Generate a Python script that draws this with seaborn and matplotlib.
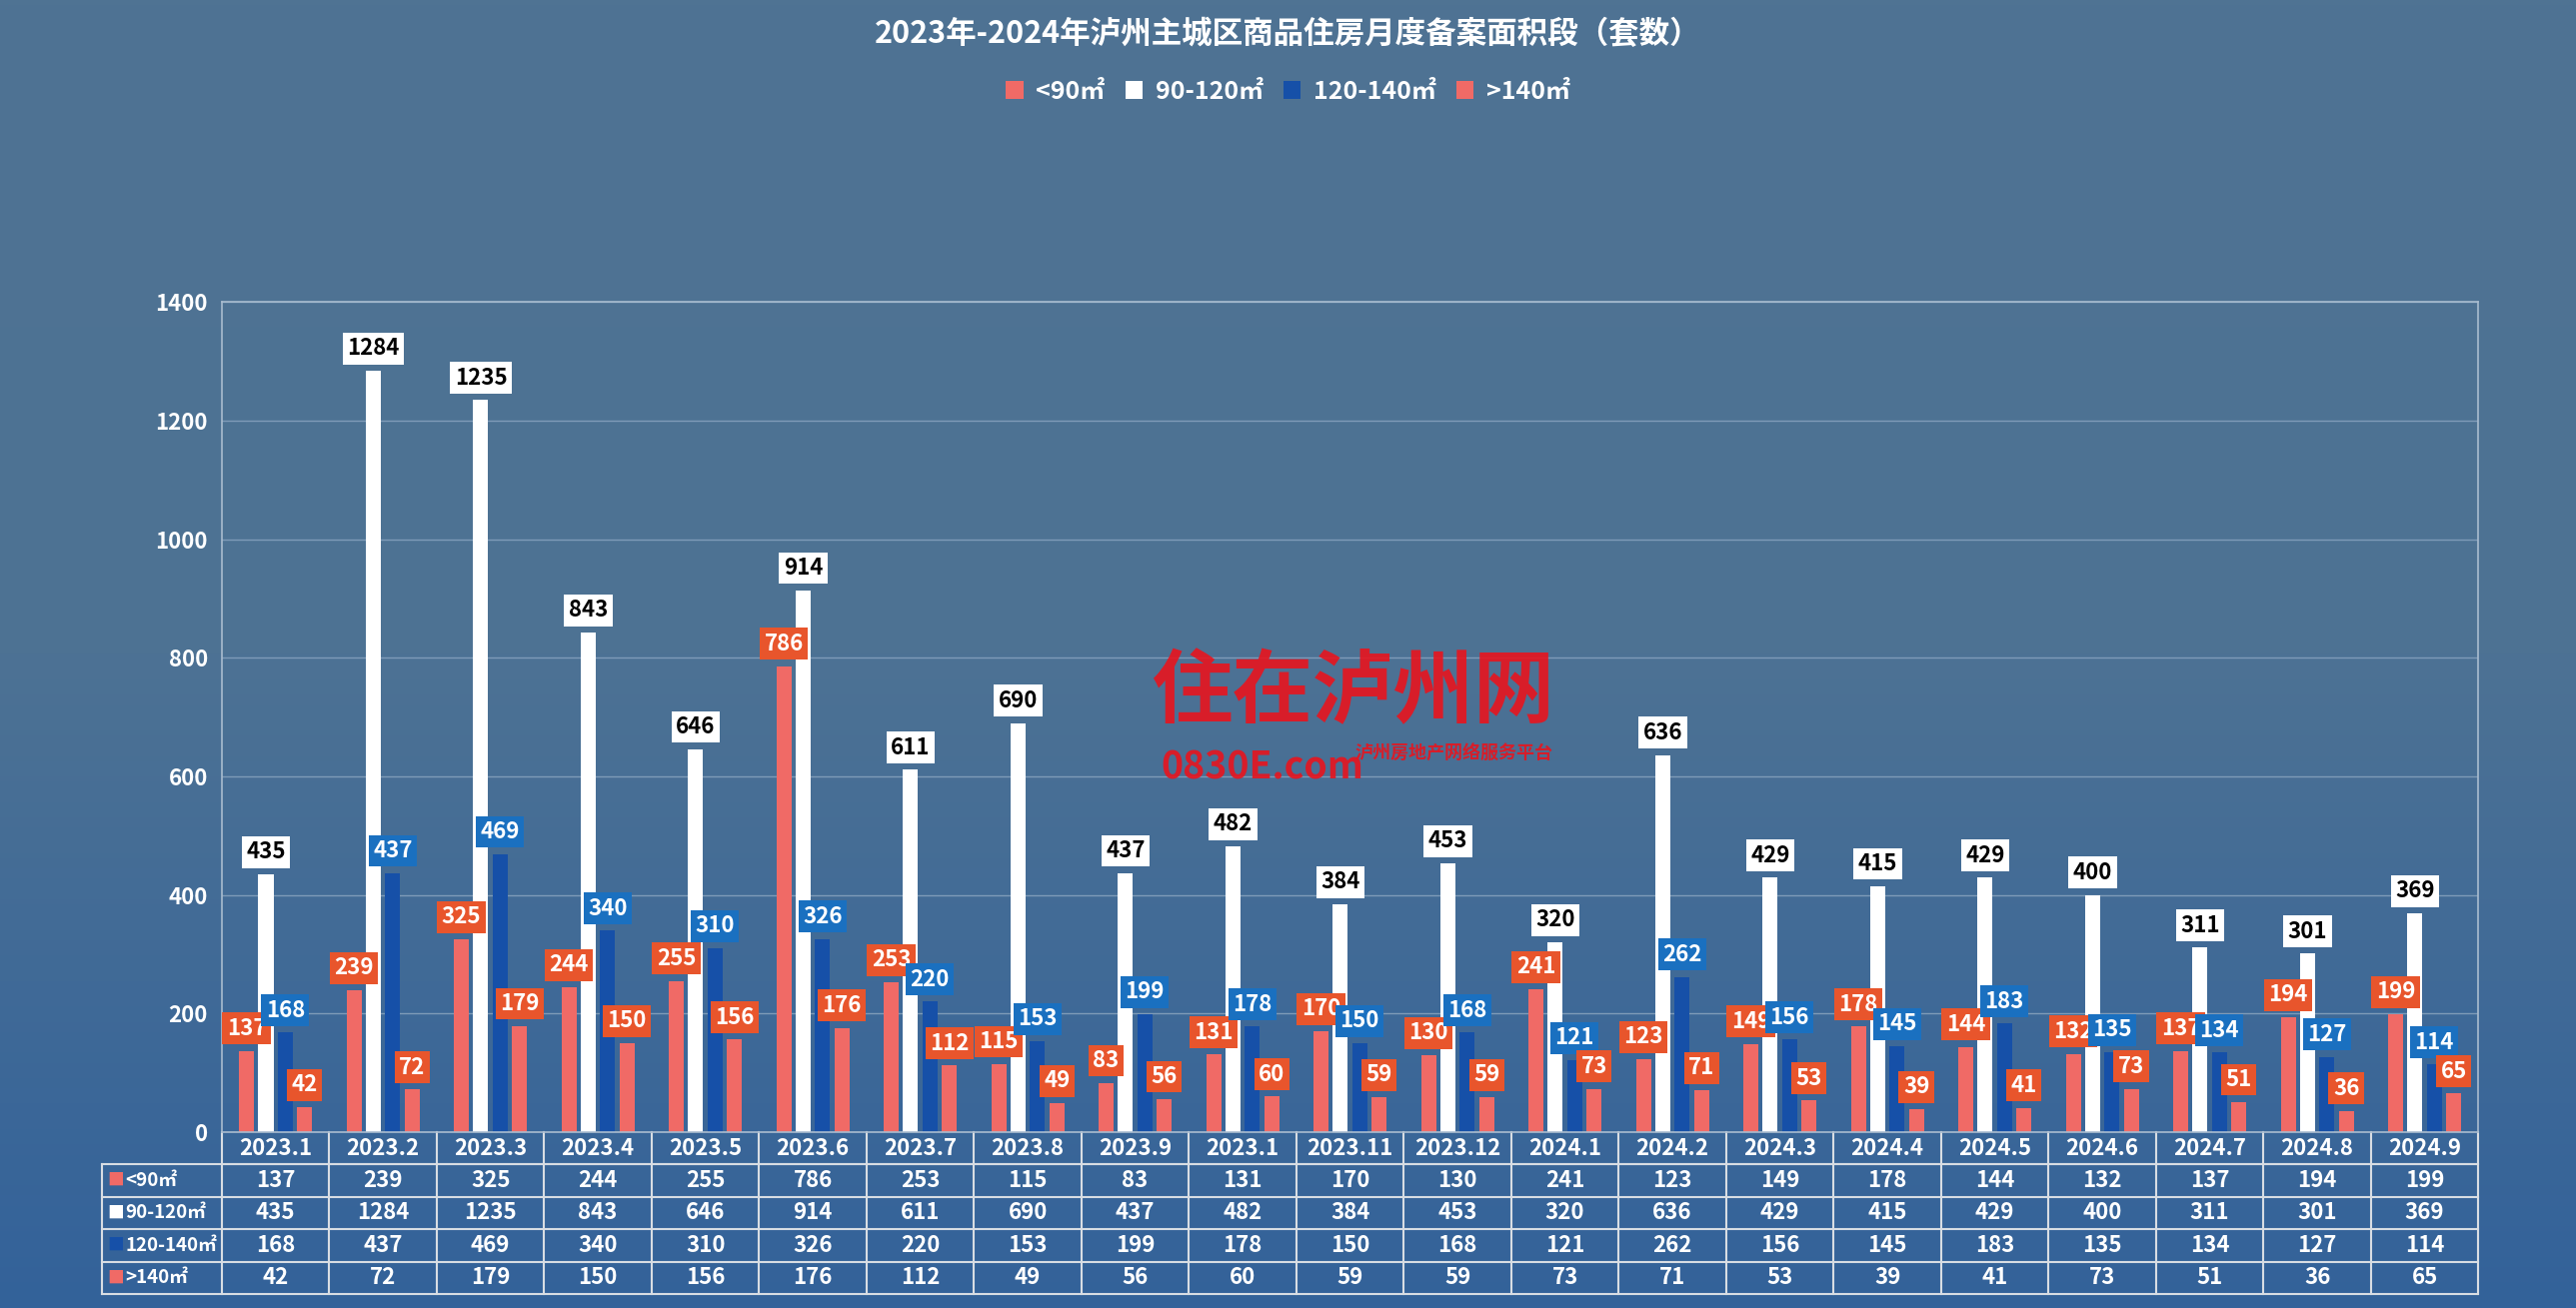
import numpy as np
import pandas as pd
import matplotlib
matplotlib.use("Agg")
import matplotlib.pyplot as plt
from matplotlib import font_manager as fm
import seaborn as sns

months = ["2023.1","2023.2","2023.3","2023.4","2023.5","2023.6","2023.7","2023.8","2023.9","2023.1","2023.11","2023.12",
          "2024.1","2024.2","2024.3","2024.4","2024.5","2024.6","2024.7","2024.8","2024.9"]
series = ["<90㎡", "90-120㎡", "120-140㎡", ">140㎡"]
s1 = [137,239,325,244,255,786,253,115,83,131,170,130,241,123,149,178,144,132,137,194,199]
s2 = [435,1284,1235,843,646,914,611,690,437,482,384,453,320,636,429,415,429,400,311,301,369]
s3 = [168,437,469,340,310,326,220,153,199,178,150,168,121,262,156,145,183,135,134,127,114]
s4 = [42,72,179,150,156,176,112,49,56,60,59,59,73,71,53,39,41,73,51,36,65]
vals = [s1, s2, s3, s4]

files = [f for f in fm.findSystemFonts() if "CJK" in f and "Serif" not in f]
for f in files:
    try:
        fm.fontManager.addfont(f)
    except Exception:
        pass
bold = [f for f in files if "Bold" in f]
cjk = bold[0] if bold else (files[0] if files else None)
fam = fm.FontProperties(fname=cjk).get_name() if cjk else "DejaVu Sans"
plt.rcParams["font.family"] = [fam, "DejaVu Sans"]
plt.rcParams["font.sans-serif"] = [fam, "DejaVu Sans"]

colors = ["#f06a66", "#ffffff", "#1650a8", "#f06a66"]
lab_bg = ["#e8552c", "#ffffff", "#1a70c0", "#e8552c"]
lab_fg = ["white", "black", "white", "white"]

n = len(months)
df = pd.DataFrame({"idx": np.tile(np.arange(n), 4),
                   "series": np.repeat(series, n),
                   "value": np.concatenate(vals)})

fig = plt.figure(figsize=(25.77, 13.09), dpi=100)
bg = fig.add_axes([0, 0, 1, 1], zorder=-10)
grad = np.linspace(0, 1, 256).reshape(-1, 1)
from matplotlib.colors import LinearSegmentedColormap
cm = LinearSegmentedColormap.from_list("g", ["#4f7393", "#4d7294", "#33629a"])
bg.imshow(grad, aspect="auto", cmap=cm, extent=[0, 1, 0, 1], origin="upper")
bg.axis("off")

ax = fig.add_axes([0.0861, 0.1345, 0.876, 0.6345])
ax.set_facecolor("none")
sns.barplot(data=df, x="idx", y="value", hue="series", hue_order=series,
            palette=colors, width=0.72, gap=0.22, ax=ax, legend=False,
            saturation=1, linewidth=0)
ax.set_ylim(0, 1400)
ax.set_xlim(-0.5, n - 0.5)
ax.set_yticks(range(0, 1401, 200))
ax.tick_params(axis="y", colors="white", labelsize=16, length=0, pad=10)
ax.set_yticklabels([str(v) for v in range(0, 1401, 200)], fontweight="bold")
ax.set_xticks([])
ax.set_xlabel(""); ax.set_ylabel("")
ax.grid(axis="y", color="#7f9bb8", linewidth=1)
ax.set_axisbelow(True)
for sp in ax.spines.values():
    sp.set_color("#a9bccf"); sp.set_linewidth(1.2)

for k, cont in enumerate(ax.containers):
    for rect, v in zip(cont.patches, vals[k]):
        x = rect.get_x() + rect.get_width() / 2
        ax.annotate(str(v), (x, v), xytext=(0, 16), textcoords="offset points",
                    ha="center", va="center", fontsize=16, fontweight="bold",
                    color=lab_fg[k], zorder=5,
                    bbox=dict(boxstyle="square,pad=0.2", fc=lab_bg[k], ec="none"))

row_h = 1400 * (19.5 / 500)
tab_left = -0.5 - 73 / 65.4
lc = "#d8dde3"
for i in range(n + 1):
    ax.plot([i - 0.5, i - 0.5], [0, -row_h * 5], color=lc, lw=1.5, clip_on=False)
ax.plot([tab_left, tab_left], [-row_h, -row_h * 5], color=lc, lw=1.5, clip_on=False)
ax.plot([-0.5, n - 0.5], [-row_h, -row_h], color=lc, lw=1.5, clip_on=False)
for r in range(1, 6):
    ax.plot([tab_left, n - 0.5], [-row_h * r, -row_h * r], color=lc, lw=1.5, clip_on=False)
for i, m in enumerate(months):
    ax.text(i, -row_h * 0.5, m, ha="center", va="center", color="white",
            fontsize=16, fontweight="bold")
for k in range(4):
    yc = -row_h * (k + 1.5)
    for i in range(n):
        ax.text(i, yc, str(vals[k][i]), ha="center", va="center", color="white",
                fontsize=16, fontweight="bold")
    ax.text(tab_left + 0.05, yc, "■", ha="left", va="center", color=colors[k], fontsize=12)
    ax.text(tab_left + 0.22, yc, series[k], ha="left", va="center", color="white",
            fontsize=13.5, fontweight="bold")

fig.text(0.5, 0.974, "2023年-2024年泸州主城区商品住房月度备案面积段（套数）", ha="center",
         va="center", color="white", fontsize=22, fontweight="bold")
from matplotlib.patches import Patch
handles = [Patch(facecolor=c, edgecolor="none") for c in colors]
fig.legend(handles, series, loc="center", bbox_to_anchor=(0.5, 0.93), ncol=4,
           frameon=False, labelcolor="white", handlelength=0.7, handleheight=0.7,
           columnspacing=0.8, handletextpad=0.5,
           prop={"size": 18, "weight": "bold", "family": fam})

fig.text(0.525, 0.47, "住在泸州网", ha="center", va="center", color="#e8141e",
         fontsize=58, fontweight="bold", style="italic", alpha=0.9)
fig.text(0.49, 0.413, "0830E.com", ha="center", va="center", color="#e8141e",
         fontsize=27, fontweight="bold", alpha=0.9)
fig.text(0.526, 0.424, "泸州房地产网络服务平台", ha="left", va="center", color="#e8141e",
         fontsize=13, fontweight="bold", style="italic", alpha=0.9)

fig.savefig("out.png", dpi=100)
